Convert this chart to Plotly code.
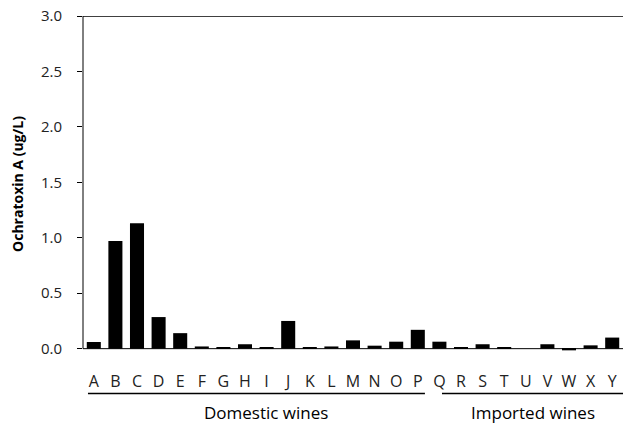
import plotly.graph_objects as go

categories = list("ABCDEFGHIJKLMNOPQRSTUVWXY")
ota_values = [0.06, 0.97, 1.13, 0.285, 0.14, 0.02, 0.012, 0.04, 0.01, 0.25,
              0.01, 0.02, 0.075, 0.027, 0.063, 0.17, 0.063, 0.01, 0.04, 0.01,
              0.0, 0.04, -0.015, 0.03, 0.10]
group_names = ["Domestic wines", "Imported wines"]
group_first = ["A", "Q"]
group_last = ["P", "Y"]
y_ticks = [0.0, 0.5, 1.0, 1.5, 2.0, 2.5, 3.0]

FONT = "Open Sans"
TXT = "#222222"

fig = go.Figure(go.Bar(
    x=categories, y=ota_values,
    marker=dict(color="black", line=dict(width=0)),
    width=0.65,
))

shapes = []
# y-axis line and top border
shapes.append(dict(type="line", xref="paper", yref="y", x0=0, x1=0, y0=0, y1=3,
                   line=dict(color="black", width=1)))
shapes.append(dict(type="line", xref="paper", yref="y", x0=0, x1=1, y0=3, y1=3,
                   line=dict(color="black", width=1.5)))
# x baseline
shapes.append(dict(type="line", xref="paper", yref="y", x0=0, x1=1, y0=0, y1=0,
                   line=dict(color="black", width=1)))

annotations = []
line_offsets = [(-0.27, 0.33), (0.12, 0.5)]
text_shift = [0.46, 0.0]
for name, a, b, (o0, o1), ts in zip(group_names, group_first, group_last,
                                     line_offsets, text_shift):
    i0 = categories.index(a)
    i1 = categories.index(b)
    shapes.append(dict(type="line", xref="x", yref="paper",
                       x0=i0 + o0, x1=i1 + o1, y0=-0.1235, y1=-0.1235,
                       line=dict(color="black", width=1.5)))
    annotations.append(dict(text=name, xref="x", yref="paper",
                            x=(i0 + o0 + i1 + o1) / 2 + ts, y=-0.1786,
                            showarrow=False, yanchor="middle",
                            font=dict(family=FONT, size=17, color="black")))

fig.update_layout(
    width=623, height=424,
    margin=dict(l=83, r=0, t=16, b=72),
    paper_bgcolor="white", plot_bgcolor="white",
    showlegend=False,
    shapes=shapes,
    annotations=annotations,
    xaxis=dict(
        type="category", range=[-0.5, 24.5], automargin=False,
        showline=False, showgrid=False, zeroline=False,
        ticks="", ticklabelstandoff=18,
        tickfont=dict(family=FONT, size=16, color=TXT),
    ),
    yaxis=dict(
        range=[-0.03, 3.0], automargin=False,
        tickvals=y_ticks, ticktext=[f"{v:.1f}" for v in y_ticks],
        ticks="outside", ticklen=5, tickcolor="black",
        ticklabelstandoff=12,
        showline=False, showgrid=False, zeroline=False,
        tickfont=dict(family=FONT, size=15, color=TXT),
        title=dict(text="<b>Ochratoxin A (ug/L)</b>",
                   font=dict(family=FONT, size=14, color="black"),
                   standoff=14),
    ),
)

fig.write_html("out.html",
               config={"displayModeBar": False},
               post_script="document.body.style.margin='0';document.body.style.overflow='hidden';")
